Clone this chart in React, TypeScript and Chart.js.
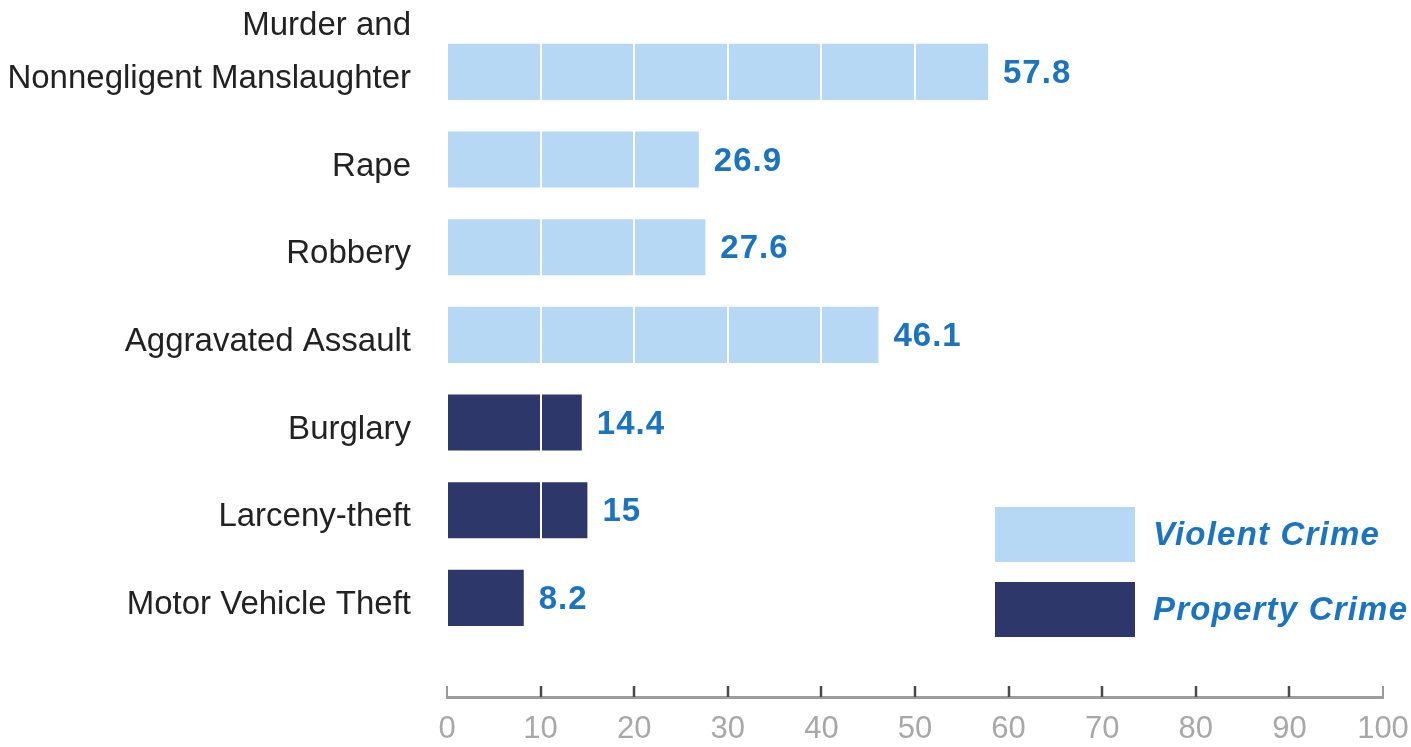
import React, { useEffect, useRef } from "react";
import { Chart, registerables } from "chart.js";

Chart.register(...registerables);

// ---- data ----
const categories: (string | string[])[] = [
  ["Murder and", "Nonnegligent Manslaughter", ""],
  "Rape",
  "Robbery",
  "Aggravated Assault",
  "Burglary",
  "Larceny-theft",
  "Motor Vehicle Theft",
];
const violentValues = [57.8, 26.9, 27.6, 46.1];
const propertyValues = [14.4, 15, 8.2];
const seriesNames = ["Violent Crime", "Property Crime"];
const seriesColors = ["#b6d8f5", "#2e3769"];
const xMin = 0;
const xMax = 100;
const xStep = 10;

const LABEL_BLUE = "#1b74bd";
const FONT = "'Liberation Sans', Arial, sans-serif";

const valueLabelPlugin = {
  id: "valueLabels",
  afterDraw(chart: any) {
    const ctx = chart.ctx;
    ctx.save();
    ctx.font = "bold 33px " + FONT;
    (ctx as any).letterSpacing = "1px";
    ctx.fillStyle = LABEL_BLUE;
    ctx.textAlign = "left";
    ctx.textBaseline = "middle";
    chart.data.datasets.forEach((ds: any, di: number) => {
      const meta = chart.getDatasetMeta(di);
      meta.data.forEach((el: any, i: number) => {
        const v = ds.data[i].x;
        ctx.fillText(String(v), el.x + 15, el.y + 2);
      });
    });
    ctx.restore();
  },
};

const tickMarkPlugin = {
  id: "tickMarks",
  afterDraw(chart: any) {
    const ctx = chart.ctx;
    const xs = chart.scales.x;
    const bottom = chart.chartArea.bottom;
    ctx.save();
    xs.ticks.forEach((t: any) => {
      const x = Math.round(xs.getPixelForValue(t.value));
      const end = t.value === xMin || t.value === xMax;
      ctx.strokeStyle = end ? "#9a9a9a" : "#4a4a4a";
      ctx.lineWidth = end ? 2 : 2.5;
      ctx.beginPath();
      ctx.moveTo(x, bottom - 11);
      ctx.lineTo(x, bottom);
      ctx.stroke();
    });
    ctx.restore();
  },
};

const legendPlugin = {
  id: "customLegend",
  afterDraw(chart: any) {
    const ctx = chart.ctx;
    const ca = chart.chartArea;
    const boxX = ca.right - 388;
    const boxW = 140;
    const boxH = 55;
    const tops = [ca.bottom - 190, ca.bottom - 115];
    ctx.save();
    seriesNames.forEach((name, i) => {
      ctx.fillStyle = seriesColors[i];
      ctx.fillRect(boxX, tops[i], boxW, boxH);
      ctx.font = "italic bold 33px " + FONT;
      (ctx as any).letterSpacing = "1.2px";
      ctx.fillStyle = LABEL_BLUE;
      ctx.textAlign = "left";
      ctx.textBaseline = "middle";
      ctx.fillText(name, boxX + boxW + 18, tops[i] + boxH / 2 + 1);
    });
    ctx.restore();
  },
};

export default function App() {
  const canvasRef = useRef<HTMLCanvasElement | null>(null);

  useEffect(() => {
    document.body.style.margin = "0";
    const canvas = canvasRef.current;
    if (!canvas) return;
    const nV = violentValues.length;
    const chart = new Chart(canvas, {
      type: "bar",
      data: {
        datasets: [
          {
            label: seriesNames[0],
            data: violentValues.map((v, i) => ({ x: v, y: i })),
            backgroundColor: seriesColors[0],
            barPercentage: 0.64,
            categoryPercentage: 1,
            grouped: false,
          } as any,
          {
            label: seriesNames[1],
            data: propertyValues.map((v, i) => ({ x: v, y: i + nV })),
            backgroundColor: seriesColors[1],
            barPercentage: 0.64,
            categoryPercentage: 1,
            grouped: false,
          } as any,
        ],
      },
      options: {
        indexAxis: "y",
        animation: false,
        responsive: true,
        maintainAspectRatio: false,
        layout: { padding: { top: 28, right: 28, bottom: 0, left: 0 } },
        plugins: {
          legend: { display: false },
          tooltip: { enabled: false },
        },
        scales: {
          x: {
            type: "linear",
            min: xMin,
            max: xMax,
            ticks: {
              stepSize: xStep,
              color: "#a8a8a8",
              padding: 14,
              maxRotation: 0,
              autoSkip: false,
              font: { family: FONT, size: 31 },
            },
            grid: {
              z: 1,
              color: (c: any) =>
                c.tick && (c.tick.value === xMin || c.tick.value === xMax) ? "rgba(0,0,0,0)" : "#ffffff",
              lineWidth: 2,
              drawTicks: false,
            },
            border: { display: true, color: "#9d9d9d", width: 3, z: 2 },
            afterFit: (s: any) => {
              s.height = 50;
              s.paddingLeft = 0;
              s.paddingRight = 0;
            },
          },
          y: {
            type: "linear",
            reverse: true,
            offset: false,
            min: -0.5,
            max: 7.13,
            afterBuildTicks: (s: any) => {
              s.ticks = categories.map((_, i) => ({ value: i }));
            },
            ticks: {
              color: "#222222",
              padding: 36,
              labelOffset: 7,
              autoSkip: false,
              font: { family: FONT, size: 33, lineHeight: 1.6 },
              callback: (value: any) => categories[value as number] as any,
            },
            grid: { display: false, drawTicks: false, offset: false },
            border: { display: false },
            afterFit: (s: any) => {
              s.width = 447;
              s.paddingTop = 0;
              s.paddingBottom = 0;
            },
          },
        },
      },
      plugins: [valueLabelPlugin, tickMarkPlugin, legendPlugin],
    });
    return () => chart.destroy();
  }, []);

  return (
    <div style={{ width: 1411, height: 747, position: "relative" }}>
      <canvas ref={canvasRef} />
    </div>
  );
}
